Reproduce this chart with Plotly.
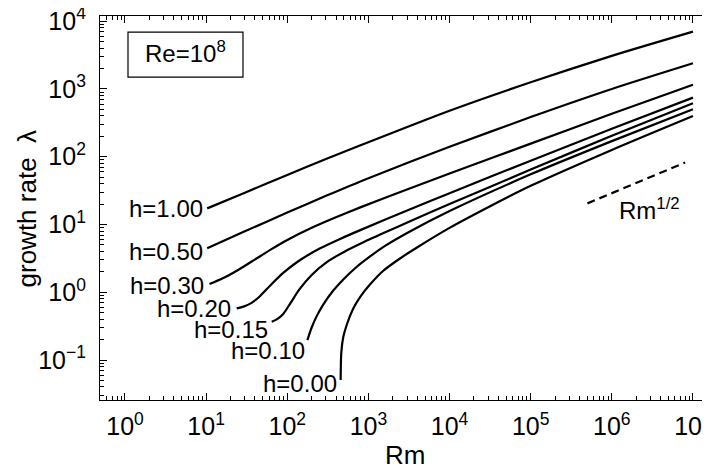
import numpy as np
import plotly.graph_objects as go

# ---- data ----
h_labels = ["h=1.00", "h=0.50", "h=0.30", "h=0.20", "h=0.15", "h=0.10", "h=0.00"]

rm_h100 = [10.3, 30, 100, 300, 800, 1e4, 1e5, 1e6, 1e7]
lam_h100 = [17.3, 29.5, 53.9, 92.3, 147.6, 478, 1256, 3083, 7015]

rm_h050 = [10.3, 30, 100, 300, 1000, 1e4, 1e5, 1e6, 1e7]
lam_h050 = [4.46, 7.93, 15.0, 26.5, 48.3, 140, 385, 1000, 2393]

rm_h030 = [11, 15.8, 25.1, 39.8, 63.1, 100, 200, 398, 794, 3162, 1e4, 1e5, 1e6, 1e7]
lam_h030 = [1.32, 1.59, 2.15, 3.03, 4.29, 5.92, 8.95, 12.8, 17.9, 33.7, 56.6, 156, 430, 1156]

rm_h020 = [23.8, 28.8, 36.3, 45.7, 61.7, 89.1, 141, 251, 447, 794, 3162, 1e4, 1e5, 1e6, 1e7]
lam_h020 = [0.579, 0.614, 0.697, 0.867, 1.26, 1.93, 2.94, 4.41, 6.12, 8.26, 16.5, 29.0, 87.5, 258, 745]

rm_h015 = [64.3, 74.1, 89.1, 107, 141, 200, 316, 501, 794, 1585, 3162, 1e4, 1e5, 1e6, 1e7]
lam_h015 = [0.368, 0.398, 0.479, 0.661, 1.10, 1.80, 2.85, 3.94, 5.19, 7.59, 11.0, 20.0, 64.6, 204, 617]

rm_h010 = [177, 200, 229, 275, 355, 501, 708, 1000, 1585, 3162, 1e4, 1e5, 1e6, 1e7]
lam_h010 = [0.197, 0.302, 0.437, 0.646, 1.0, 1.58, 2.34, 3.24, 4.79, 7.76, 15.8, 55.0, 170, 501]

rm_h000 = [455, 463, 490, 545, 646, 789, 1045, 1514, 2449, 3972, 1e4, 31623, 1e5, 1e6, 1e7]
lam_h000 = [0.0507, 0.127, 0.218, 0.34, 0.566, 0.851, 1.30, 2.06, 3.15, 4.58, 8.91, 18.6, 37.2, 126, 399]

ref_rm = [5e5, 8e6]          # Rm^(1/2) reference segment
ref_lam = [20.5, 82.0]

x_tickvals = [1, 10, 100, 1e3, 1e4, 1e5, 1e6, 1e7]
x_ticktext = ["10<sup>0</sup>", "10<sup>1</sup>", "10<sup>2</sup>", "10<sup>3</sup>",
              "10<sup>4</sup>", "10<sup>5</sup>", "10<sup>6</sup>", "10<sup>7</sup>"]
y_tickvals = [0.1, 1, 10, 100, 1e3, 1e4]
y_ticktext = ["10<sup>\u22121</sup>", "10<sup>0</sup>", "10<sup>1</sup>",
              "10<sup>2</sup>", "10<sup>3</sup>", "10<sup>4</sup>"]

x_title = "Rm"
y_title = "growth rate\u00a0\u00a0\u03bb"

series = [(rm_h100, lam_h100), (rm_h050, lam_h050), (rm_h030, lam_h030),
          (rm_h020, lam_h020), (rm_h015, lam_h015), (rm_h010, lam_h010),
          (rm_h000, lam_h000)]

# label offsets (pixels) - style only
label_dx = [-2, -2, -3, -4, -2, 0, -2]
label_dy = [0, -3, -1, 0, -8, -10, -3]

FONT = "Liberation Sans, Arial, sans-serif"

fig = go.Figure()
for (rm, lam), name in zip(series, h_labels):
    fig.add_trace(go.Scatter(x=rm, y=lam, mode="lines", name=name,
                             line=dict(color="black", width=2.2, shape="spline", smoothing=0.7),
                             showlegend=False))
fig.add_trace(go.Scatter(x=ref_rm, y=ref_lam, mode="lines", showlegend=False,
                         line=dict(color="black", width=2.2, dash="8px,5px")))

for (rm, lam), name, dx, dy in zip(series, h_labels, label_dx, label_dy):
    fig.add_annotation(x=np.log10(rm[0]), y=np.log10(lam[0]), xref="x", yref="y",
                       text=name, showarrow=False, xanchor="right", yanchor="middle",
                       xshift=dx, yshift=dy, font=dict(family=FONT, size=24, color="black"))

fig.add_annotation(x=6.06, y=1.14, xref="x", yref="y", yshift=6,
                   text="Rm<sup>1/2</sup>", showarrow=False, xanchor="left", yanchor="middle",
                   font=dict(family=FONT, size=24, color="black"))

# Re box
bx0, bx1, by0, by1 = 0.0459, 0.2344, 0.841, 0.958
fig.add_shape(type="rect", xref="paper", yref="paper", x0=bx0, x1=bx1, y0=by0, y1=by1,
              line=dict(color="black", width=1.2))
fig.add_annotation(x=(bx0 + bx1) / 2, y=(by0 + by1) / 2, xref="paper", yref="paper", yshift=3,
                   text="Re=10<sup>8</sup>", showarrow=False, xanchor="center", yanchor="middle",
                   font=dict(family=FONT, size=24, color="black"))

# axis titles
fig.add_annotation(x=0.5, y=-0.1432, xref="paper", yref="paper", text=x_title,
                   showarrow=False, xanchor="center", yanchor="middle",
                   font=dict(family=FONT, size=26, color="black"))
fig.add_annotation(x=-0.1189, y=0.5, xref="paper", yref="paper", text=y_title, textangle=-90,
                   showarrow=False, xanchor="center", yanchor="middle",
                   font=dict(family=FONT, size=26, color="black"))

def minor_vals(lo, hi):
    out = []
    for d in range(lo, hi + 1):
        for m in range(2, 10):
            out.append(m * 10.0 ** d)
    return out

axis_common = dict(type="log", showgrid=False, zeroline=False, showline=True,
                   linecolor="black", linewidth=1.2, mirror="ticks", ticks="inside",
                   ticklen=7, tickwidth=1.2, tickcolor="black", tickmode="array",
                   ticklabeloverflow="allow",
                   tickfont=dict(family=FONT, size=25, color="black"))

fig.update_xaxes(**axis_common, range=[-0.308, 7.21], tickvals=x_tickvals, ticktext=x_ticktext,
                 ticklabelstandoff=4,
                 minor=dict(tickmode="array", tickvals=minor_vals(-1, 7), ticks="inside",
                            ticklen=4, tickwidth=1, tickcolor="black"))
fig.update_yaxes(**axis_common, range=[-1.59, 4.077], tickvals=y_tickvals, ticktext=y_ticktext,
                 ticklabelstandoff=8,
                 minor=dict(tickmode="array", tickvals=minor_vals(-2, 4), ticks="inside",
                            ticklen=4, tickwidth=1, tickcolor="black"))

# page body has an 8px margin: size the figure so the plot lands where the reference has it
fig.update_layout(width=702, height=461, margin=dict(l=92, r=0, t=8, b=69, autoexpand=False),
                  plot_bgcolor="white", paper_bgcolor="white", showlegend=False)

fig.write_html("out.html")
